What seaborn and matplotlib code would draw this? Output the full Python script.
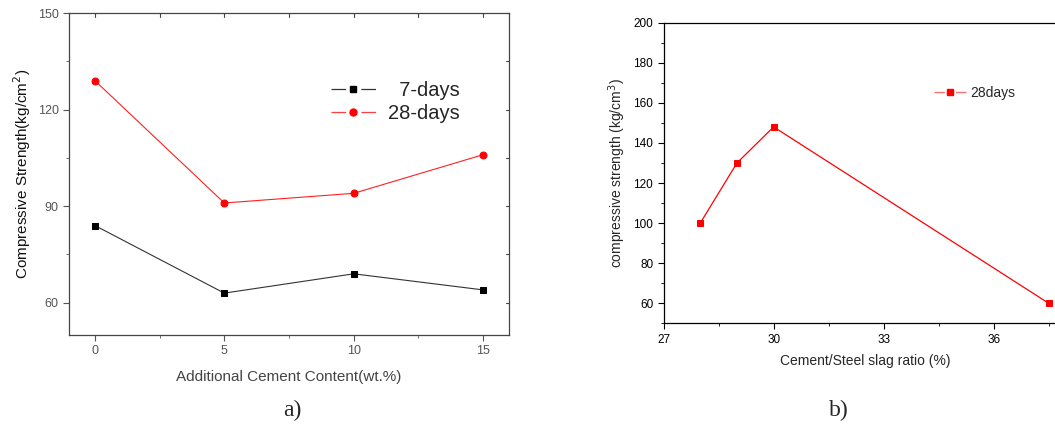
import numpy as np
import pandas as pd
import matplotlib.pyplot as plt
import seaborn as sns
from matplotlib.lines import Line2D
from matplotlib.ticker import MultipleLocator

# panel a) data
cement_add = [0, 5, 10, 15]
strength_7d = [84, 63, 69, 64]
strength_28d = [129, 91, 94, 106]

# panel b) data
slag_ratio = [28, 29, 30, 37.5]
strength_b = [100, 130, 148, 60]

sns.set_style("ticks")
plt.rcParams['font.family'] = ['Liberation Sans', 'DejaVu Sans']

fig = plt.figure(figsize=(10.55, 4.25), dpi=100)

# ---- panel a) ----
ax1 = fig.add_axes([0.0654, 0.2118, 0.4171, 0.7576])
df_a = pd.DataFrame({'x': cement_add, '7d': strength_7d, '28d': strength_28d})
sns.lineplot(data=df_a, x='x', y='7d', ax=ax1, color='#333333', lw=0.8,
             marker='s', markersize=5, markerfacecolor='black', markeredgecolor='black')
sns.lineplot(data=df_a, x='x', y='28d', ax=ax1, color='#ff2020', lw=0.8,
             marker='o', markersize=5, markerfacecolor='red', markeredgecolor='red')
ax1.set_xlim(-1, 16)
ax1.set_ylim(50, 150)
ax1.set_xticks(cement_add)
ax1.set_yticks([60, 90, 120, 150])
ax1.xaxis.set_minor_locator(MultipleLocator(2.5))
ax1.yaxis.set_minor_locator(MultipleLocator(15))
ax1.tick_params(which='both', direction='out', colors='#555555', labelsize=9,
                top=False, right=False)
ax1.tick_params(which='major', length=4)
ax1.tick_params(which='minor', length=2.5)
for s in ax1.spines.values():
    s.set_color('#444444')
    s.set_linewidth(0.9)
# mirrored inward ticks on top/right
for t in [60, 75, 90, 105, 120, 135, 150]:
    ax1.plot([16, 15.88], [t, t], color='#444444', lw=0.8, clip_on=False)
for t in [0, 2.5, 5, 7.5, 10, 12.5, 15]:
    ax1.plot([t, t], [150, 148.8], color='#444444', lw=0.8, clip_on=False)
ax1.set_xlabel('Additional Cement Content(wt.%)', fontsize=11, color='#444444', labelpad=9)
ax1.set_ylabel('Compressive Strength(kg/cm$^2$)', fontsize=11, color='#111111', labelpad=3)

handles_a = [
    Line2D([], [], color='#333333', lw=0.9, linestyle=(0, (11.7, 12.2)),
           marker='s', markersize=5, markerfacecolor='black', markeredgecolor='black'),
    Line2D([], [], color='#ff4040', lw=0.9, linestyle=(0, (11.7, 12.2)),
           marker='o', markersize=5, markerfacecolor='red', markeredgecolor='red'),
]
ax1.legend(handles_a, ['  7-days', '28-days'], loc='upper left',
           bbox_to_anchor=(0.555, 0.845), frameon=False, fontsize=14.5,
           handlelength=2.2, handletextpad=0.6, labelspacing=0.2, numpoints=1)

# ---- panel b) ----
ax2 = fig.add_axes([0.629, 0.2393, 0.3824, 0.7073])
df_b = pd.DataFrame({'ratio': slag_ratio, 'strength': strength_b})
sns.lineplot(data=df_b, x='ratio', y='strength', ax=ax2, color='red', lw=0.9,
             marker='s', markersize=5, markerfacecolor='red', markeredgecolor='red')
ax2.set_xlim(27, 38)
ax2.set_ylim(50, 200)
ax2.set_xticks([27, 30, 33, 36])
ax2.set_yticks(np.arange(60, 201, 20))
ax2.xaxis.set_minor_locator(MultipleLocator(1.5))
ax2.yaxis.set_minor_locator(MultipleLocator(10))
ax2.tick_params(which='both', direction='out', colors='black', labelsize=8.5)
ax2.tick_params(which='major', length=4)
ax2.tick_params(which='minor', length=2.5)
for s in ax2.spines.values():
    s.set_color('black')
    s.set_linewidth(0.9)
ax2.set_xlabel('Cement/Steel slag ratio (%)', fontsize=10, labelpad=6)
ax2.set_ylabel('compressive strength (kg/cm$^3$)', fontsize=10, labelpad=4)
handle_b = Line2D([], [], color='#ff7070', lw=1.0, linestyle=(0, (7.5, 8)),
                  marker='s', markersize=5, markerfacecolor='red', markeredgecolor='red')
ax2.legend([handle_b], ['28days'], loc='upper left', bbox_to_anchor=(0.64, 0.83),
           frameon=False, fontsize=10, handlelength=2.3, handletextpad=0.3, numpoints=1)

# captions
fig.text(0.277, 0.02, 'a)', family=['Liberation Serif', 'DejaVu Serif'], fontsize=17, ha='center')
fig.text(0.795, 0.02, 'b)', family=['Liberation Serif', 'DejaVu Serif'], fontsize=17, ha='center')

fig.savefig('out.png', dpi=100)
